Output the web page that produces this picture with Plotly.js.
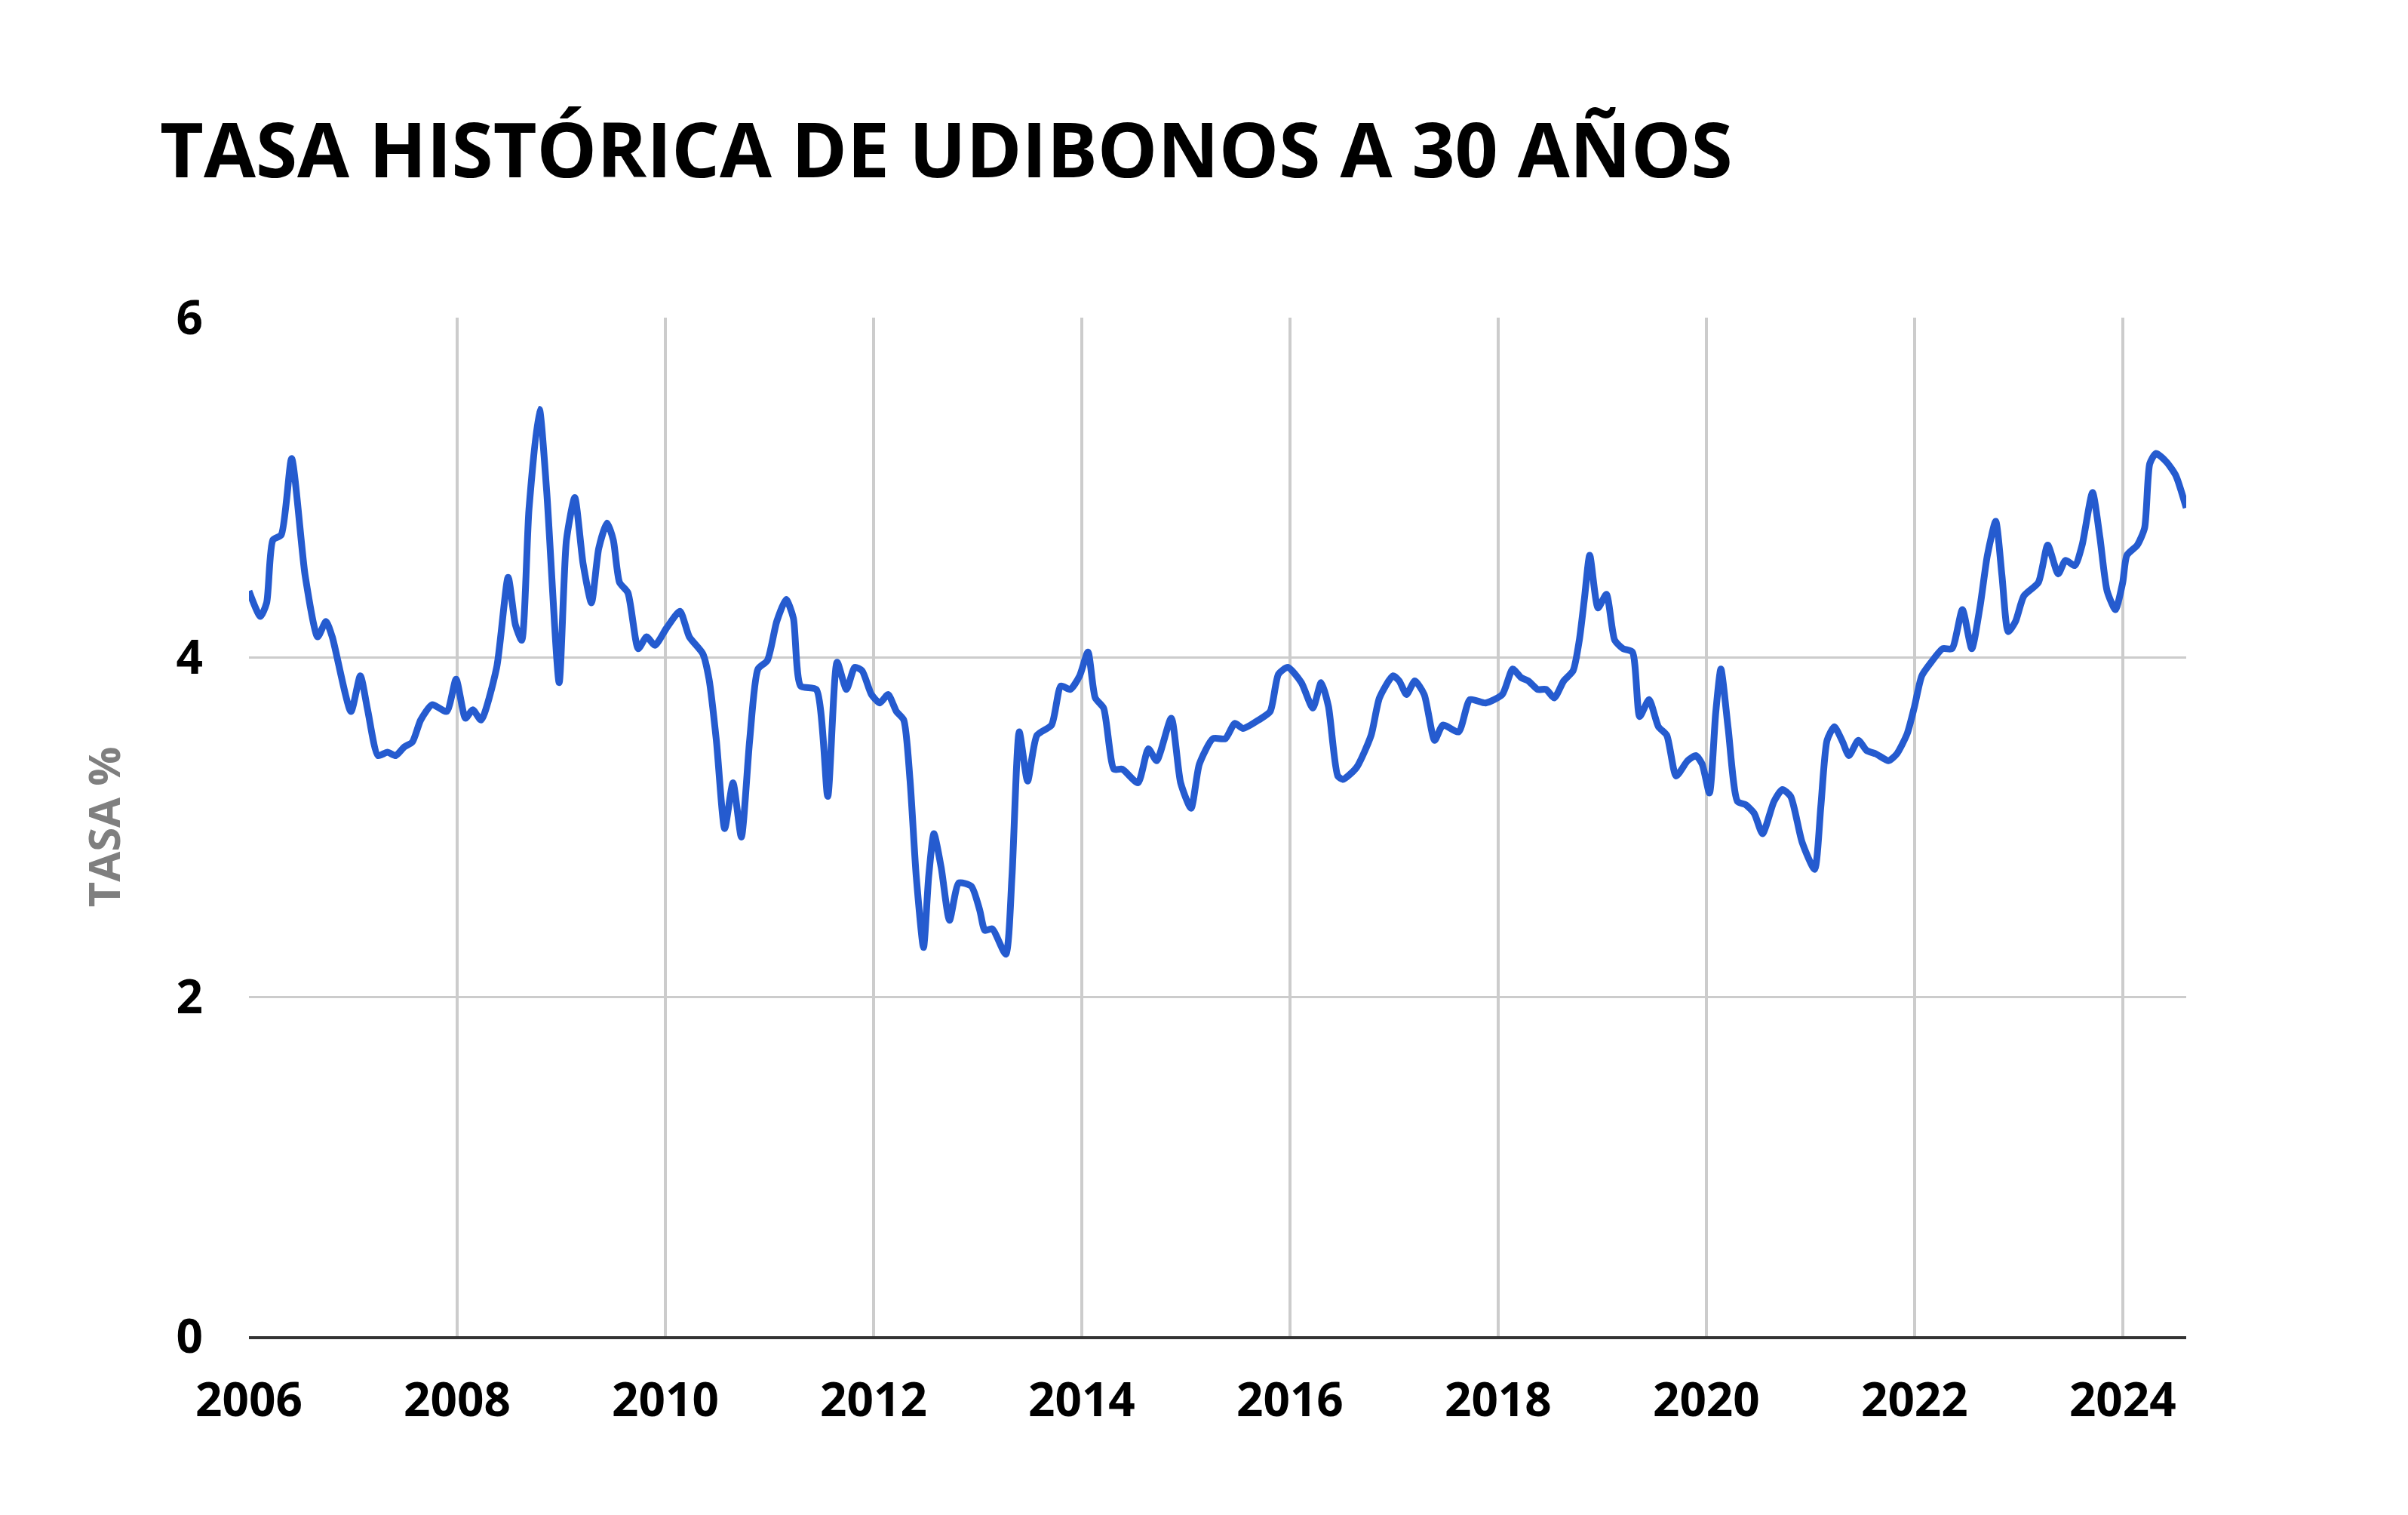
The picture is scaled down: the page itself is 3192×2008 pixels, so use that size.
<!DOCTYPE html>
<html>
<head>
<meta charset="utf-8">
<script src="https://cdn.plot.ly/plotly-3.0.1.min.js"></script>
<style>
  html, body { margin: 0; padding: 0; background: #ffffff; }
  #chart { width: 3192px; height: 2008px; }
</style>
</head>
<body>
<div id="chart"></div>
<script>
// Fecha (año decimal) y tasa (%)
const fecha = [
  2006.00, 2006.11, 2006.17, 2006.23, 2006.31, 2006.41, 2006.54, 2006.66, 2006.74, 2006.80,
  2006.98, 2007.07, 2007.14, 2007.24, 2007.33, 2007.41, 2007.49, 2007.57, 2007.65, 2007.76,
  2007.90, 2007.99, 2008.08, 2008.15, 2008.23, 2008.38, 2008.49, 2008.56, 2008.62, 2008.69,
  2008.79, 2008.86, 2008.98, 2009.05, 2009.13, 2009.21, 2009.29, 2009.36, 2009.44, 2009.50,
  2009.56, 2009.64, 2009.74, 2009.82, 2009.90, 2010.01, 2010.14, 2010.23, 2010.36, 2010.42,
  2010.49, 2010.57, 2010.65, 2010.73, 2010.81, 2010.89, 2010.98, 2011.07, 2011.16, 2011.23,
  2011.30, 2011.45, 2011.56, 2011.65, 2011.74, 2011.82, 2011.89, 2011.98, 2012.06, 2012.14,
  2012.22, 2012.29, 2012.35, 2012.41, 2012.48, 2012.53, 2012.58, 2012.65, 2012.73, 2012.82,
  2012.94, 2013.02, 2013.07, 2013.14, 2013.27, 2013.33, 2013.40, 2013.48, 2013.57, 2013.71,
  2013.80, 2013.89, 2013.98, 2014.06, 2014.13, 2014.21, 2014.31, 2014.39, 2014.54, 2014.64,
  2014.72, 2014.86, 2014.95, 2015.05, 2015.13, 2015.26, 2015.38, 2015.47, 2015.55, 2015.70,
  2015.81, 2015.89, 2015.98, 2016.11, 2016.22, 2016.30, 2016.37, 2016.46, 2016.51, 2016.64,
  2016.78, 2016.86, 2016.99, 2017.05, 2017.12, 2017.20, 2017.29, 2017.39, 2017.47, 2017.62,
  2017.73, 2017.88, 2018.04, 2018.14, 2018.22, 2018.29, 2018.38, 2018.46, 2018.54, 2018.63,
  2018.72, 2018.78, 2018.83, 2018.88, 2018.96, 2019.04, 2019.12, 2019.20, 2019.29, 2019.36,
  2019.45, 2019.54, 2019.62, 2019.71, 2019.82, 2019.90, 2019.96, 2020.03, 2020.09, 2020.14,
  2020.21, 2020.30, 2020.38, 2020.46, 2020.54, 2020.65, 2020.73, 2020.81, 2020.92, 2021.04,
  2021.10, 2021.16, 2021.23, 2021.31, 2021.37, 2021.46, 2021.54, 2021.63, 2021.75, 2021.83,
  2021.93, 2022.00, 2022.07, 2022.16, 2022.27, 2022.36, 2022.46, 2022.55, 2022.63, 2022.70,
  2022.78, 2022.84, 2022.90, 2022.97, 2023.05, 2023.19, 2023.28, 2023.38, 2023.45, 2023.54,
  2023.61, 2023.71, 2023.78, 2023.85, 2023.93, 2024.00, 2024.04, 2024.14, 2024.21, 2024.26,
  2024.32, 2024.42, 2024.51, 2024.61
];
const tasa = [
  4.39, 4.24, 4.32, 4.69, 4.72, 5.17, 4.48, 4.12, 4.21, 4.12,
  3.68, 3.89, 3.69, 3.42, 3.44, 3.42, 3.47, 3.50, 3.63, 3.72,
  3.68, 3.87, 3.64, 3.69, 3.63, 3.94, 4.47, 4.19, 4.10, 4.87,
  5.46, 4.98, 3.85, 4.69, 4.94, 4.55, 4.32, 4.64, 4.79, 4.69,
  4.44, 4.38, 4.05, 4.12, 4.07, 4.17, 4.27, 4.12, 4.02, 3.87,
  3.51, 2.99, 3.26, 2.94, 3.51, 3.93, 3.98, 4.21, 4.34, 4.23,
  3.83, 3.81, 3.18, 3.97, 3.81, 3.94, 3.92, 3.78, 3.73, 3.78,
  3.68, 3.63, 3.28, 2.71, 2.29, 2.71, 2.96, 2.76, 2.45, 2.67,
  2.65, 2.51, 2.39, 2.40, 2.25, 2.71, 3.56, 3.27, 3.54, 3.60,
  3.83, 3.81, 3.89, 4.03, 3.76, 3.70, 3.34, 3.34, 3.26, 3.46,
  3.39, 3.64, 3.26, 3.11, 3.37, 3.52, 3.52, 3.61, 3.58, 3.63,
  3.68, 3.90, 3.94, 3.85, 3.70, 3.85, 3.71, 3.30, 3.28, 3.35,
  3.54, 3.76, 3.89, 3.86, 3.78, 3.86, 3.78, 3.51, 3.60, 3.56,
  3.75, 3.73, 3.78, 3.93, 3.88, 3.86, 3.81, 3.81, 3.76, 3.86,
  3.92, 4.10, 4.35, 4.60, 4.29, 4.37, 4.10, 4.05, 4.03, 3.65,
  3.75, 3.59, 3.54, 3.30, 3.39, 3.42, 3.37, 3.20, 3.67, 3.93,
  3.58, 3.15, 3.13, 3.08, 2.96, 3.15, 3.22, 3.18, 2.91, 2.75,
  3.12, 3.51, 3.59, 3.50, 3.42, 3.51, 3.45, 3.43, 3.39, 3.43,
  3.55, 3.71, 3.89, 3.97, 4.05, 4.05, 4.28, 4.05, 4.30, 4.60,
  4.80, 4.48, 4.15, 4.21, 4.36, 4.44, 4.66, 4.49, 4.57, 4.54,
  4.66, 4.97, 4.71, 4.39, 4.28, 4.44, 4.60, 4.66, 4.76, 5.14,
  5.20, 5.15, 5.07, 4.88
];
const anios = [2006, 2008, 2010, 2012, 2014, 2016, 2018, 2020, 2022, 2024];
const etiquetasAnios = ["2006", "2008", "2010", "2012", "2014", "2016", "2018", "2020", "2022", "2024"];
const valoresY = [0, 2, 4, 6];
const etiquetasY = ["0", "2", "4", "6"];
const titulo = "TASA HISTÓRICA DE UDIBONOS A 30 AÑOS";
const tituloY = "TASA %";

const trace = {
  x: fecha,
  y: tasa,
  type: "scatter",
  mode: "lines",
  line: { color: "#255bcf", width: 9, shape: "spline", smoothing: 0.6 },
  hoverinfo: "x+y"
};

const layout = {
  width: 3192,
  height: 2008,
  paper_bgcolor: "#ffffff",
  plot_bgcolor: "#ffffff",
  margin: { l: 330, r: 294, t: 421, b: 237, autoexpand: false },
  showlegend: false,
  title: {
    text: titulo,
    font: { family: "Open Sans", size: 100, color: "#000000", weight: 700 },
    xref: "container", yref: "container",
    x: 212 / 3192, xanchor: "left",
    y: 1 - 200 / 2008, yanchor: "middle"
  },
  xaxis: {
    type: "linear",
    range: [2006, 2024.61],
    tickmode: "array",
    tickvals: anios,
    ticktext: etiquetasAnios,
    showgrid: true,
    gridcolor: "#cccccc",
    gridwidth: 4,
    zeroline: false,
    showline: true,
    linecolor: "#333333",
    linewidth: 4,
    ticks: "",
    ticklabelstandoff: 28,
    tickfont: { family: "Open Sans", size: 62, color: "#000000", weight: 700 },
    fixedrange: true
  },
  yaxis: {
    range: [0, 6],
    tickmode: "array",
    tickvals: valoresY,
    ticktext: etiquetasY,
    showgrid: true,
    gridcolor: "#cccccc",
    gridwidth: 3,
    zeroline: false,
    showline: false,
    ticks: "",
    ticklabelstandoff: 60,
    tickfont: { family: "Open Sans", size: 62, color: "#000000", weight: 700 },
    title: {
      text: tituloY,
      font: { family: "Open Sans", size: 58, color: "#7f7f7f", weight: 700 },
      standoff: 55
    },
    automargin: false,
    fixedrange: true
  }
};

Plotly.newPlot("chart", [trace], layout, { displayModeBar: false, staticPlot: true });
</script>
</body>
</html>
